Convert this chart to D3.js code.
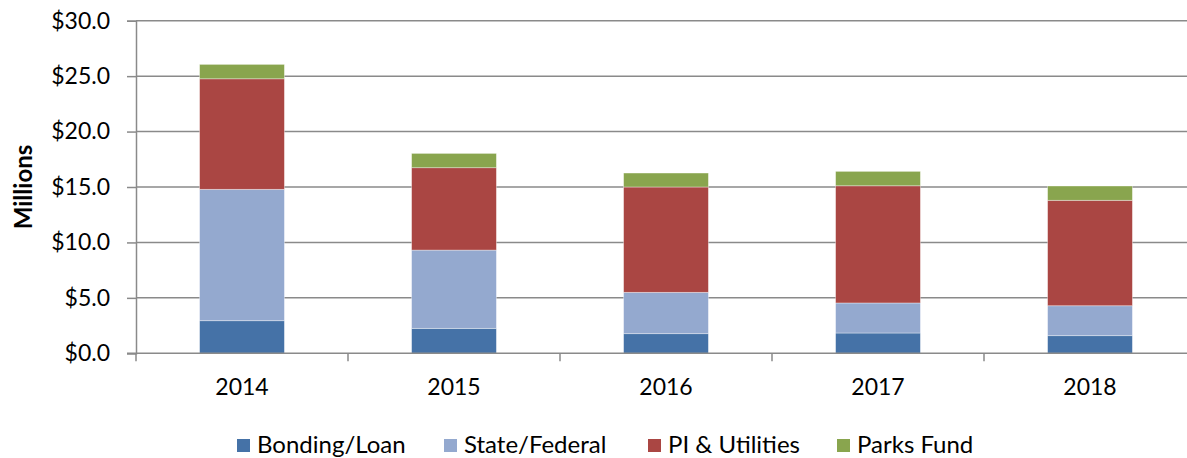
<!DOCTYPE html>
<html>
<head>
<meta charset="utf-8">
<script src="https://cdn.jsdelivr.net/npm/d3@7"></script>
<style>
  html, body { margin: 0; padding: 0; background: #fff; }
  svg { display: block; font-family: Lato, "Open Sans", sans-serif; }
</style>
</head>
<body>
<svg id="chart" width="1187" height="458"></svg>
<script>
// Funding sources by year, in millions of dollars
const years = ["2014", "2015", "2016", "2017", "2018"];
const bondingLoan  = [2.94, 2.25, 1.77, 1.83, 1.59];
const stateFederal = [11.85, 7.06, 3.73, 2.71, 2.70];
const piUtilities  = [9.97, 7.43, 9.50, 10.57, 9.51];
const parksFund    = [1.30, 1.29, 1.26, 1.30, 1.29];
const seriesNames  = ["Bonding/Loan", "State/Federal", "PI & Utilities", "Parks Fund"];
const yTicks       = [0, 5, 10, 15, 20, 25, 30];

const colors = ["#4572A7", "#94A9CF", "#AA4643", "#89A54E"];
const seriesValues = [bondingLoan, stateFederal, piUtilities, parksFund];

const rows = years.map((yr, i) => {
  const r = { year: yr };
  seriesNames.forEach((s, k) => { r[s] = seriesValues[k][i]; });
  return r;
});

const svg = d3.select("#chart");
const plotLeft = 136, plotRight = 1196, plotTop = 20.7, plotBottom = 353.3;

const x = d3.scaleBand().domain(years).range([plotLeft, plotRight]).padding(0);
const y = d3.scaleLinear().domain([0, 30]).range([plotBottom, plotTop]);
const barW = x.bandwidth() * 0.4;

// horizontal gridlines
svg.append("g")
  .selectAll("line")
  .data(yTicks.filter(t => t > 0))
  .join("line")
  .attr("x1", plotLeft).attr("x2", plotRight)
  .attr("y1", d => y(d)).attr("y2", d => y(d))
  .attr("stroke", "#8a8a8a").attr("stroke-width", 1.5);

// stacked bars
const stack = d3.stack().keys(seriesNames)(rows);
svg.append("g")
  .selectAll("g")
  .data(stack)
  .join("g")
  .attr("fill", (d, i) => colors[i])
  .selectAll("rect")
  .data(d => d)
  .join("rect")
  .attr("x", d => x(d.data.year) + (x.bandwidth() - barW) / 2)
  .attr("width", barW)
  .attr("y", d => y(d[1]))
  .attr("height", d => y(d[0]) - y(d[1]))
  .attr("stroke", "rgba(255,255,255,0.45)")
  .attr("stroke-width", 0.8);

// y axis
const yAxis = svg.append("g")
  .attr("transform", `translate(${plotLeft},0)`)
  .call(d3.axisLeft(y).tickValues(yTicks).tickSize(9).tickPadding(17)
    .tickFormat(d => "$" + d3.format(".1f")(d)));
yAxis.select(".domain").attr("stroke", "#8a8a8a").attr("stroke-width", 1.5);
yAxis.selectAll(".tick line").attr("stroke", "#8a8a8a").attr("stroke-width", 1.5);
yAxis.selectAll(".tick text").attr("font-size", 23).attr("fill", "#000")
  .attr("font-family", "Lato, sans-serif");

// x axis with tick marks on category boundaries
const xg = svg.append("g").attr("transform", `translate(0,${plotBottom})`);
xg.append("line").attr("x1", plotLeft - 9).attr("x2", plotRight)
  .attr("stroke", "#8a8a8a").attr("stroke-width", 1.5);
xg.selectAll("line.bound")
  .data(years)
  .join("line")
  .attr("class", "bound")
  .attr("x1", d => x(d)).attr("x2", d => x(d))
  .attr("y1", 0).attr("y2", 8)
  .attr("stroke", "#8a8a8a").attr("stroke-width", 1.5);
xg.selectAll("text")
  .data(years)
  .join("text")
  .attr("x", d => x(d) + x.bandwidth() / 2)
  .attr("y", 42)
  .attr("text-anchor", "middle")
  .attr("font-size", 23)
  .attr("fill", "#000")
  .text(d => d);

// y axis title
svg.append("text")
  .attr("transform", `translate(32,187) rotate(-90)`)
  .attr("text-anchor", "middle")
  .attr("font-size", 24)
  .attr("font-weight", "bold")
  .attr("fill", "#000")
  .text("Millions");

// legend
const legendX = [237, 444, 648, 837];
const lg = svg.append("g");
seriesNames.forEach((s, i) => {
  lg.append("rect")
    .attr("x", legendX[i]).attr("y", 439)
    .attr("width", 13).attr("height", 13)
    .attr("fill", colors[i]);
  lg.append("text")
    .attr("x", legendX[i] + 20).attr("y", 453)
    .attr("font-size", 24)
    .attr("fill", "#000")
    .text(s);
});
</script>
</body>
</html>
